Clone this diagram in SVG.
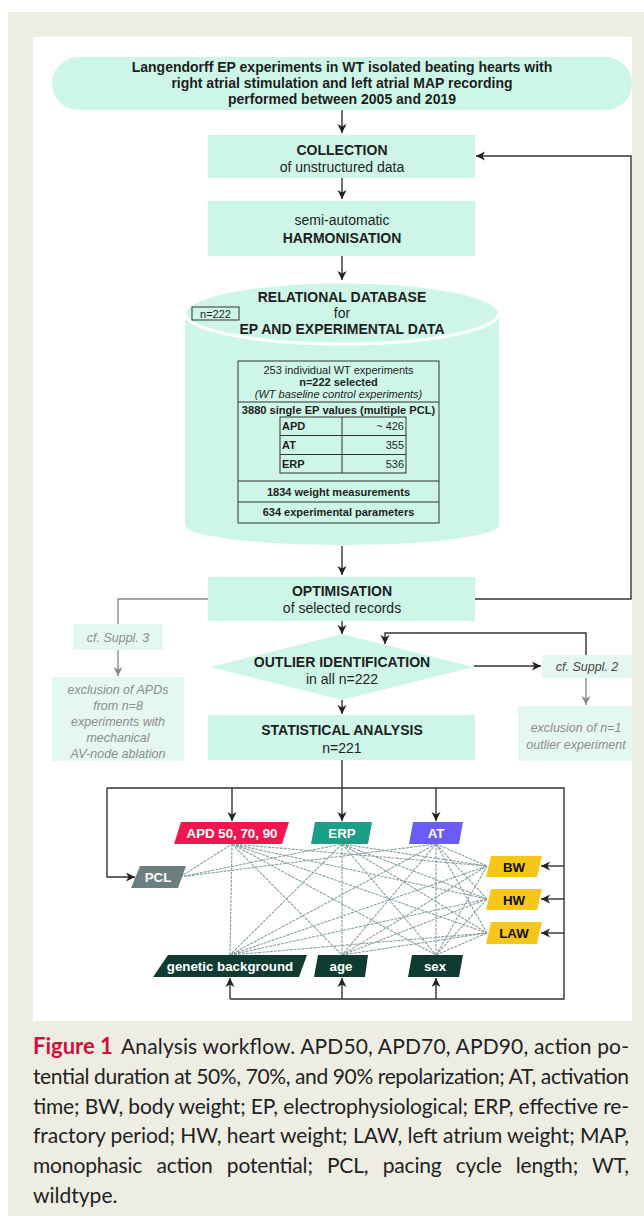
<svg xmlns="http://www.w3.org/2000/svg" width="644" height="1216" viewBox="0 0 644 1216">
<style>
.t{font-family:"Liberation Sans",Arial,sans-serif;fill:#1e1e1e;text-anchor:middle}
.b{font-weight:bold}
.s14{font-size:14px}
.s11{font-size:11px}
.st{text-anchor:start}
.en{text-anchor:end}
.it{font-style:italic;font-size:12.5px}
.gr{fill:#8c8c8c}
.dg{fill:#444}
.mint{fill:#cdf6e8}
.pale{fill:#e4f8f1}
.ln{fill:none;stroke:#333;stroke-width:1.4}
.lg{fill:none;stroke:#8c8c8c;stroke-width:1.4}
.net{fill:none;stroke:#88a0a0;stroke-width:1.1;stroke-dasharray:3 1}
.tb{fill:none;stroke:#333;stroke-width:1}
.nw{font-family:"Liberation Sans",Arial,sans-serif;font-weight:bold;font-size:13.3px;fill:#fff;text-anchor:middle}
.nk{font-family:"Liberation Sans",Arial,sans-serif;font-weight:bold;font-size:13.3px;fill:#111;text-anchor:middle}
.cap{font-family:Lato,"Open Sans",sans-serif;font-size:21px;fill:#222}
.fig{font-weight:bold;fill:#d0103a}
</style>
<defs>
<marker id="a" markerUnits="userSpaceOnUse" markerWidth="10" markerHeight="10" refX="9" refY="4.5" orient="auto"><path d="M0,0 L9,4.5 L0,9 L2.5,4.5 z" fill="#222"/></marker>
<marker id="ag" markerUnits="userSpaceOnUse" markerWidth="10" markerHeight="10" refX="9" refY="4.5" orient="auto"><path d="M0,0 L9,4.5 L0,9 L2.5,4.5 z" fill="#8c8c8c"/></marker>
</defs>
<rect x="0" y="0" width="644" height="1216" fill="#fff"/>
<rect x="8" y="12" width="636" height="1204" fill="#eeede3"/>
<rect x="33" y="37" width="599" height="984" fill="#fff"/>

<g id="connectors">
<path class="ln" d="M342,110 V133" marker-end="url(#a)"/>
<path class="ln" d="M342,178 V199" marker-end="url(#a)"/>
<path class="ln" d="M342,256 V280" marker-end="url(#a)"/>
<path class="ln" d="M342,546 V575" marker-end="url(#a)"/>
<path class="ln" d="M475,599 H631 V156 H476" marker-end="url(#a)"/>
<path class="ln" d="M342,621 V634" marker-end="url(#a)"/>
<path class="ln" d="M474,666 H541" marker-end="url(#a)"/>
<path class="ln" d="M586,655 V633 H385 V644" marker-end="url(#a)"/>
<path class="ln" d="M342,700 V714" marker-end="url(#a)"/>
<path class="lg" d="M208,599 H118 V624"/>
<path class="lg" d="M118,650 V676" marker-end="url(#ag)"/>
<path class="lg" d="M586,678 V705" marker-end="url(#ag)"/>
<path class="ln" d="M342,760 V821" marker-end="url(#a)"/>
<path class="ln" d="M107,788 H564 V999 H230"/>
<path class="ln" d="M107,788 V877 H135" marker-end="url(#a)"/>
<path class="ln" d="M232,788 V821" marker-end="url(#a)"/>
<path class="ln" d="M436,788 V821" marker-end="url(#a)"/>
<path class="ln" d="M564,866 H541" marker-end="url(#a)"/>
<path class="ln" d="M564,899 H541" marker-end="url(#a)"/>
<path class="ln" d="M564,933 H541" marker-end="url(#a)"/>
<path class="ln" d="M230,999 V978" marker-end="url(#a)"/>
<path class="ln" d="M342,999 V978" marker-end="url(#a)"/>
<path class="ln" d="M436,999 V978" marker-end="url(#a)"/>
<g id="network">
<path class="net" d="M232,844 L230,955 M232,844 L342,955 M232,844 L436,955 M232,844 L487,866 M232,844 L487,899 M232,844 L487,933"/>
<path class="net" d="M342,844 L230,955 M342,844 L342,955 M342,844 L436,955 M342,844 L487,866 M342,844 L487,899 M342,844 L487,933"/>
<path class="net" d="M436,844 L230,955 M436,844 L342,955 M436,844 L436,955 M436,844 L487,866 M436,844 L487,899 M436,844 L487,933"/>
<path class="net" d="M180,877 L232,844 M180,877 L342,844 M180,877 L436,844"/>
<path class="net" d="M230,955 L487,866 M230,955 L487,899 M230,955 L487,933 M342,955 L487,866 M342,955 L487,899 M342,955 L487,933 M436,955 L487,866 M436,955 L487,899 M436,955 L487,933"/>
</g>
</g>

<g id="start">
<rect class="mint" x="52" y="57" width="580" height="53" rx="26.5"/>
<text class="t b s14" x="342" y="72">Langendorff EP experiments in WT isolated beating hearts with</text>
<text class="t b s14" x="342" y="88">right atrial stimulation and left atrial MAP recording</text>
<text class="t b s14" x="342" y="104">performed between 2005 and 2019</text>
</g>

<g id="collection">
<rect class="mint" x="208" y="135" width="267" height="43"/>
<text class="t b s14" x="342" y="155">COLLECTION</text>
<text class="t s14" x="342" y="172">of unstructured data</text>
</g>

<g id="harmonisation">
<rect class="mint" x="208" y="201" width="267" height="55"/>
<text class="t s14" x="342" y="225">semi-automatic</text>
<text class="t b s14" x="342" y="243">HARMONISATION</text>
</g>

<g id="database">
<path class="mint" d="M185,313 V525 A157,20 0 0 0 499,525 V313 Z"/>
<ellipse class="mint" cx="342" cy="313" rx="157" ry="31" stroke="#fff" stroke-width="3"/>
<text class="t b s14" x="342" y="302">RELATIONAL DATABASE</text>
<text class="t s14" x="342" y="318">for</text>
<text class="t b s14" x="342" y="334">EP AND EXPERIMENTAL DATA</text>
<rect class="tb" x="192" y="307" width="47" height="13"/>
<text class="t s11" x="215.5" y="317.5">n=222</text>
<rect fill="#cdf6e8" stroke="#333" stroke-width="1" x="238" y="361" width="201" height="162"/>
<path class="tb" d="M238,402 H439 M238,481 H439 M238,502 H439"/>
<text class="t s11" x="338.5" y="374">253 individual WT experiments</text>
<text class="t b s11" x="338.5" y="386">n=222 selected</text>
<text class="t s11" x="338.5" y="398" style="font-style:italic">(WT baseline control experiments)</text>
<text class="t b" x="338.5" y="413.5" style="font-size:11.1px">3880 single EP values (multiple PCL)</text>
<rect class="tb" x="280" y="417" width="126" height="56"/>
<path class="tb" d="M280,435.5 H406 M280,454.5 H406 M342,417 V473"/>
<text class="t b s11 st" x="282" y="430">APD</text>
<text class="t s11 en" x="404" y="430">~ 426</text>
<text class="t b s11 st" x="282" y="449">AT</text>
<text class="t s11 en" x="404" y="449">355</text>
<text class="t b s11 st" x="282" y="468">ERP</text>
<text class="t s11 en" x="404" y="468">536</text>
<text class="t b s11" x="338.5" y="495.5">1834 weight measurements</text>
<text class="t b s11" x="338.5" y="516">634 experimental parameters</text>
</g>

<g id="optimisation">
<rect class="mint" x="208" y="577" width="267" height="44"/>
<text class="t b s14" x="342" y="596">OPTIMISATION</text>
<text class="t s14" x="342" y="613">of selected records</text>
</g>

<g id="suppl3">
<rect class="pale" x="73" y="624" width="90" height="26"/>
<text class="t it gr" x="118" y="641.5">cf. Suppl. 3</text>
</g>

<g id="exclusion-apd">
<rect class="pale" x="52" y="677" width="132" height="84"/>
<text class="t it gr" x="118" y="694">exclusion of APDs</text>
<text class="t it gr" x="118" y="710">from n=8</text>
<text class="t it gr" x="118" y="726">experiments with</text>
<text class="t it gr" x="118" y="742">mechanical</text>
<text class="t it gr" x="118" y="758">AV-node ablation</text>
</g>

<g id="outlier">
<polygon class="mint" points="210,667 342,634 474,667 342,700"/>
<text class="t b s14" x="342" y="667">OUTLIER IDENTIFICATION</text>
<text class="t s14" x="342" y="684">in all n=222</text>
</g>

<g id="suppl2">
<rect class="pale" x="542" y="655" width="90" height="23"/>
<text class="t it dg" x="587" y="671">cf. Suppl. 2</text>
</g>

<g id="exclusion-outlier">
<rect class="pale" x="518" y="706" width="114" height="55"/>
<text class="t it gr" x="576" y="732">exclusion of n=1</text>
<text class="t it gr" x="576" y="749">outlier experiment</text>
</g>

<g id="statistical">
<rect class="mint" x="208" y="715" width="267" height="45"/>
<text class="t b s14" x="342" y="735">STATISTICAL ANALYSIS</text>
<text class="t s14" x="342" y="753">n=221</text>
</g>

<g id="apd"><polygon points="181,822 289,822 282,844 174,844" fill="#ef1750"/><text class="nw" x="232" y="838">APD 50, 70, 90</text></g>
<g id="erp"><polygon points="315,822 372,822 368,844 311,844" fill="#1a9e86"/><text class="nw" x="342" y="838">ERP</text></g>
<g id="at"><polygon points="413,822 463,822 459,844 409,844" fill="#6a5cf5"/><text class="nw" x="436" y="838">AT</text></g>
<g id="pcl"><polygon points="140,866 186,866 178,888 131,888" fill="#6b7f80"/><text class="nw" x="158" y="882">PCL</text></g>
<g id="bw"><polygon points="491,856 542,856 537,877 486,877" fill="#f7c61a"/><text class="nk" x="514" y="871.5">BW</text></g>
<g id="hw"><polygon points="491,889 542,889 537,910 486,910" fill="#f7c61a"/><text class="nk" x="514" y="904.5">HW</text></g>
<g id="law"><polygon points="491,922 542,922 537,944 486,944" fill="#f7c61a"/><text class="nk" x="514" y="938">LAW</text></g>
<g id="genetic"><polygon points="168,955 307,955 299,977 153,977" fill="#0f3b31"/><text class="nw" x="230" y="971">genetic background</text></g>
<g id="age"><polygon points="318,955 368,955 365,977 314,977" fill="#0f3b31"/><text class="nw" x="341" y="971">age</text></g>
<g id="sex"><polygon points="412,955 463,955 459,977 408,977" fill="#0f3b31"/><text class="nw" x="435" y="971">sex</text></g>

<g id="caption">
<text class="cap fig" x="33" y="1054" style="font-size:22px">Figure 1</text>
<text class="cap" x="121" y="1054" textLength="508" lengthAdjust="spacing">Analysis workflow. APD50, APD70, APD90, action po-</text>
<text class="cap" x="33" y="1084" textLength="596" lengthAdjust="spacing">tential duration at 50%, 70%, and 90% repolarization; AT, activation</text>
<text class="cap" x="33" y="1114" textLength="596" lengthAdjust="spacing">time; BW, body weight; EP, electrophysiological; ERP, effective re-</text>
<text class="cap" x="33" y="1143" textLength="596" lengthAdjust="spacing">fractory period; HW, heart weight; LAW, left atrium weight; MAP,</text>
<text class="cap" x="33" y="1173" textLength="596" lengthAdjust="spacing" word-spacing="9">monophasic action potential; PCL, pacing cycle length; WT,</text>
<text class="cap" x="33" y="1203">wildtype.</text>
</g>
</svg>
